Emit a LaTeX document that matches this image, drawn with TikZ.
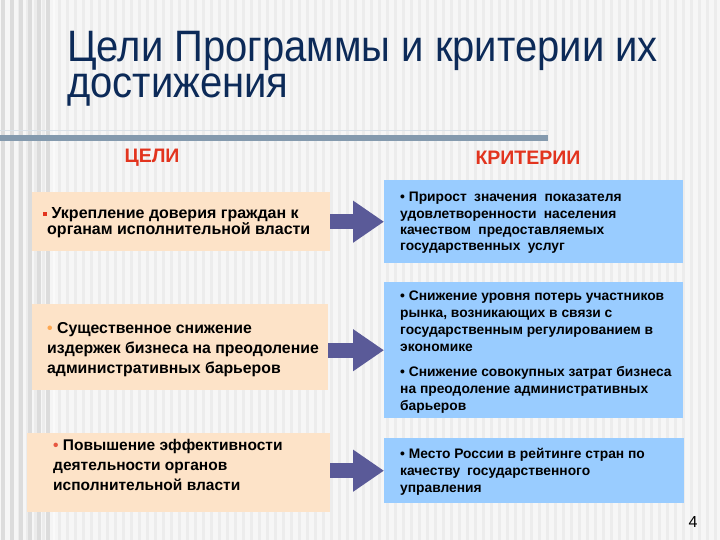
\documentclass[tikz,border=0pt]{standalone}
\usepackage{fontspec}
\setmainfont{Liberation Sans}
\usetikzlibrary{arrows.meta,calc}
\definecolor{bgbase}{RGB}{246,246,246}
\definecolor{bgstripe}{RGB}{236,236,236}
\definecolor{bgdark}{RGB}{220,220,220}
\definecolor{titlenavy}{RGB}{12,42,88}
\definecolor{headred}{RGB}{226,52,30}
\definecolor{peach}{RGB}{253,227,200}
\definecolor{skyblue}{RGB}{153,204,255}
\definecolor{arrowcol}{RGB}{90,90,152}
\definecolor{rulecol}{RGB}{132,154,174}
\tikzset{
  goalbox/.style={fill=peach, draw=none, anchor=north west, inner sep=0pt},
  critbox/.style={fill=skyblue, draw=none, anchor=north west, inner sep=0pt},
  goaltext/.style={anchor=base west, inner sep=0pt, align=left, text=black, font=\fontsize{15.8}{20}\selectfont\bfseries},
  crittext/.style={anchor=base west, inner sep=0pt, align=left, text=black, font=\fontsize{13.8}{17}\selectfont\bfseries},
  header/.style={font=\fontsize{19.5}{22}\selectfont\bfseries, text=headred, inner sep=0pt},
  titletext/.style={anchor=base west, inner sep=0pt, text=titlenavy, font=\fontsize{40}{40}\selectfont},
  bigarrow/.style={draw=arrowcol, line width=15pt, -{Triangle[length=31pt,width=40pt]}, arrowcol},
}
\begin{document}
\begin{tikzpicture}[x=1pt,y=-1pt]
\useasboundingbox (0,0) rectangle (720,540);
% background
\fill[bgbase] (0,0) rectangle (720,540);
\foreach \i in {0,...,89} {\fill[bgstripe] (\i*8+2,0) rectangle (\i*8+5,540);}
\foreach \i in {0,...,5} {\fill[bgdark] (\i*9+1,0) rectangle (\i*9+5,540);}
\fill[white,opacity=0.5] (50,0) rectangle (55,540);
% rule
\draw[white!70!rulecol, line width=1.5pt] (0,130.5) -- (548,130.5);
\draw[rulecol, line width=6pt] (0,138) -- (548,138);
% title
\node[titletext] (title1) at (67,62) {\scalebox{1}[1.1]{Цели Программы и критерии их}};
\node[titletext] (title2) at (67,98) {\scalebox{1}[1.1]{достижения}};
% headers
\node[header] (hgoal) at (152,158) {ЦЕЛИ};
\node[header] (hcrit) at (528,158) {КРИТЕРИИ};
% goal boxes
\node[goalbox, minimum width=298pt, minimum height=59pt] (g1) at (32,192) {};
\node[goaltext, font=\fontsize{16}{17}\selectfont\bfseries] (g1t) at (43,235)
 {{\color{headred}\raisebox{2pt}{\rule{4pt}{4pt}}} Укрепление доверия граждан к\\[0pt]\hspace*{4pt}органам исполнительной власти};
\node[goalbox, minimum width=296pt, minimum height=86pt] (g2) at (32,304) {};
\node[goaltext] (g2t) at (47,373)
 {{\color{orange!60!peach}•} Существенное снижение\\издержек бизнеса на преодоление\\административных барьеров};
\node[goalbox, minimum width=303pt, minimum height=79pt] (g3) at (27,433) {};
\node[goaltext, font=\fontsize{15.5}{20}\selectfont\bfseries] (g3t) at (53,490)
 {{\color{headred!80!peach}•} Повышение эффективности\\деятельности органов\\исполнительной власти};
% criteria boxes
\node[critbox, minimum width=299pt, minimum height=83pt] (c1) at (384,180) {};
\node[crittext, font=\fontsize{13.8}{16.4}\selectfont\bfseries] (c1t) at (400,251)
 {• Прирост\hspace{3.5pt} значения\hspace{3.5pt} показателя\\удовлетворенности\hspace{3.5pt} населения\\качеством\hspace{3.5pt} предоставляемых\\государственных\hspace{3.5pt} услуг};
\node[critbox, minimum width=299pt, minimum height=136pt] (c2) at (384,282) {};
\node[crittext] (c2t) at (400,410)
 {• Снижение уровня потерь участников\\рынка, возникающих в связи с\\государственным регулированием в\\экономике\\[8pt]• Снижение совокупных затрат бизнеса\\на преодоление административных\\барьеров};
\node[critbox, minimum width=300pt, minimum height=65pt] (c3) at (384,438) {};
\node[crittext] (c3t) at (400,492)
 {• Место России в рейтинге стран по\\качеству\hspace{3pt} государственного\\управления};
% arrows
\draw[bigarrow] (g1.east) -- (g1.east -| c1.west);
\draw[bigarrow] (c2.west -| g2.east) -- (c2.west);
\draw[bigarrow] (c3.west -| g3.east) -- (c3.west);
% page number
\node[anchor=base, inner sep=0pt, font=\fontsize{16}{18}\selectfont] (pnum) at (693,527) {4};
\end{tikzpicture}
\end{document}
